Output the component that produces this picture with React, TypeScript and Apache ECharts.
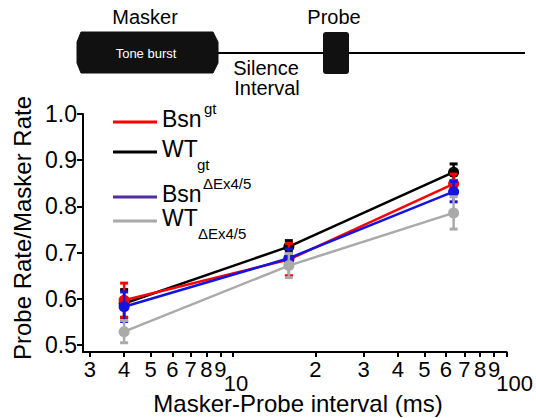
import React, { useEffect, useRef } from "react";
import * as echarts from "echarts";

const intervals = [4, 16, 64];
const wtGt = [0.59, 0.713, 0.874];
const wtGtErr = [0.03, 0.013, 0.018];
const bsnGt = [0.597, 0.685, 0.849];
const bsnGtErr = [0.037, 0.035, 0.021];
const bsnEx = [0.583, 0.688, 0.832];
const bsnExErr = [0.032, 0.02, 0.022];
const wtEx = [0.529, 0.672, 0.786];
const wtExErr = [0.024, 0.026, 0.035];

const xTicks = [3, 4, 5, 6, 7, 8, 9, 10, 20, 30, 40, 50, 60, 70, 80, 90, 100];
const xMinorLabels = [3, 4, 5, 6, 7, 8, 9, 20, 30, 40, 50, 60, 70, 80, 90];
const xDecadeLabels = [10, 100];
const yTicks = [0.5, 0.6, 0.7, 0.8, 0.9, 1.0];

const FONT = "'Liberation Sans', Arial, Helvetica, sans-serif";

export default function App() {
  const ref = useRef<HTMLDivElement>(null);
  useEffect(() => {
    if (!ref.current) return;
    const chart = echarts.init(ref.current, null, { renderer: "svg" });

    const groups = [
      { name: "WT_gt", vals: wtGt, err: wtGtErr, color: "#000000" },
      { name: "Bsn_gt", vals: bsnGt, err: bsnGtErr, color: "#ff0000" },
      { name: "Bsn_Ex", vals: bsnEx, err: bsnExErr, color: "#1414e0" },
      { name: "WT_Ex", vals: wtEx, err: wtExErr, color: "#aaaaaa" },
    ];

    const series: any[] = [];
    groups.forEach((g, gi) => {
      series.push({
        type: "custom",
        name: g.name + "_err",
        z: 2 + gi * 2,
        xAxisIndex: 0,
        encode: { x: 0, y: [1, 2] },
        data: intervals.map((x, i) => [x, g.vals[i] - g.err[i], g.vals[i] + g.err[i]]),
        renderItem: (params: any, api: any) => {
          const x = api.value(0);
          const lo = api.coord([x, api.value(1)]);
          const hi = api.coord([x, api.value(2)]);
          const hw = 4;
          const st = { stroke: g.color, lineWidth: 2.5 };
          const cap = { stroke: g.color, lineWidth: 3 };
          return {
            type: "group",
            children: [
              { type: "line", shape: { x1: lo[0], y1: lo[1], x2: hi[0], y2: hi[1] }, style: st },
              { type: "line", shape: { x1: lo[0] - hw, y1: lo[1], x2: lo[0] + hw, y2: lo[1] }, style: cap },
              { type: "line", shape: { x1: hi[0] - hw, y1: hi[1], x2: hi[0] + hw, y2: hi[1] }, style: cap },
            ],
          };
        },
      });
      series.push({
        type: "line",
        name: g.name,
        z: 3 + gi * 2,
        xAxisIndex: 0,
        data: intervals.map((x, i) => [x, g.vals[i]]),
        symbol: "circle",
        symbolSize: 11,
        showSymbol: true,
        lineStyle: { color: g.color, width: 2.5 },
        itemStyle: { color: g.color },
      });
    });

    const legendItems = [
      { y: 122, color: "#ff0000", main: "Bsn", sup: "gt", sub: null, supX: 204 },
      { y: 152, color: "#000000", main: "WT", sup: null, sub: "gt", supX: 197 },
      { y: 197, color: "#4f2f9f", main: "Bsn", sup: "\u0394Ex4/5", sub: null, supX: 203 },
      { y: 221, color: "#aaaaaa", main: "WT", sup: null, sub: "\u0394Ex4/5", supX: 198 },
    ];
    const legendGraphics: any[] = [];
    legendItems.forEach((l) => {
      legendGraphics.push({
        type: "line",
        shape: { x1: 113, y1: l.y, x2: 157, y2: l.y },
        style: { stroke: l.color, lineWidth: 3 },
      });
      legendGraphics.push({
        type: "text",
        x: 162,
        y: l.y - 3,
        style: { text: l.main, font: `23px ${FONT}`, fill: "#000", align: "left", verticalAlign: "middle" },
      });
      if (l.sup) {
        legendGraphics.push({
          type: "text",
          x: l.supX,
          y: l.y - 14,
          style: { text: l.sup, font: `15px ${FONT}`, fill: "#000", align: "left", verticalAlign: "middle" },
        });
      }
      if (l.sub) {
        legendGraphics.push({
          type: "text",
          x: l.supX,
          y: l.y + 12,
          style: { text: l.sub, font: `15px ${FONT}`, fill: "#000", align: "left", verticalAlign: "middle" },
        });
      }
    });

    const schematic: any[] = [
      {
        type: "polygon",
        shape: {
          points: [
            [81, 32], [213, 32], [218, 42], [218, 63], [213, 73], [81, 73], [77, 63], [77, 42],
          ],
        },
        style: { fill: "#111", stroke: "#111", lineWidth: 1, lineJoin: "round" },
      },
      {
        type: "text", x: 146, y: 53,
        style: { text: "Tone burst", font: `13px ${FONT}`, fill: "#fff", align: "center", verticalAlign: "middle" },
      },
      { type: "line", shape: { x1: 218, y1: 53, x2: 525, y2: 53 }, style: { stroke: "#000", lineWidth: 2 } },
      {
        type: "rect",
        shape: { x: 323, y: 32, width: 26, height: 42, r: 3 },
        style: { fill: "#111" },
      },
      {
        type: "text", x: 145, y: 17,
        style: { text: "Masker", font: `20px ${FONT}`, fill: "#000", align: "center", verticalAlign: "middle" },
      },
      {
        type: "text", x: 334, y: 17,
        style: { text: "Probe", font: `20px ${FONT}`, fill: "#000", align: "center", verticalAlign: "middle" },
      },
      {
        type: "text", x: 266, y: 68,
        style: { text: "Silence", font: `20px ${FONT}`, fill: "#000", align: "center", verticalAlign: "middle" },
      },
      {
        type: "text", x: 267, y: 88,
        style: { text: "Interval", font: `20px ${FONT}`, fill: "#000", align: "center", verticalAlign: "middle" },
      },
      {
        type: "text", x: 22, y: 228, rotation: Math.PI / 2,
        style: { text: "Probe Rate/Masker Rate", font: `24px ${FONT}`, fill: "#000", align: "center", verticalAlign: "middle" },
      },
      {
        type: "text", x: 298, y: 403,
        style: { text: "Masker-Probe interval (ms)", font: `24px ${FONT}`, fill: "#000", align: "center", verticalAlign: "middle" },
      },
    ];

    const xMinorLabel = (v: number) => {
      const r = Math.round(v);
      return r > 10 ? String(r / 10) : String(r);
    };
    const xDecadeLabel = (v: number) => {
      const r = Math.round(v);
      return r === 100 ? "{hund|100}" : "{ten|10}";
    };

    chart.setOption({
      animation: false,
      backgroundColor: "#fff",
      grid: { left: 83, right: 29, top: 114, bottom: 66, containLabel: false },
      xAxis: [
        {
          type: "log",
          logBase: 10,
          min: 2.83,
          max: 100,
          axisLine: { show: true, lineStyle: { color: "#000", width: 2 } },
          axisTick: { show: true, customValues: xTicks, length: 5, lineStyle: { color: "#000", width: 2 } },
          axisLabel: {
            show: true,
            customValues: xMinorLabels,
            formatter: xMinorLabel,
            color: "#000",
            fontSize: 22,
            fontFamily: FONT,
            margin: 6,
          },
          splitLine: { show: false },
          minorTick: { show: false },
        },
        {
          type: "log",
          logBase: 10,
          min: 2.83,
          max: 100,
          position: "bottom",
          axisLine: { show: false },
          axisTick: { show: false },
          axisLabel: {
            show: true,
            customValues: xDecadeLabels,
            formatter: xDecadeLabel,
            showMinLabel: true,
            showMaxLabel: true,
            color: "#000",
            fontSize: 22,
            fontFamily: FONT,
            margin: 20,
            rich: {
              ten: { fontSize: 22, fontFamily: FONT, color: "#000", padding: [0, 0, 0, 6] },
              hund: { fontSize: 22, fontFamily: FONT, color: "#000", padding: [0, 0, 0, 16] },
            },
          },
          splitLine: { show: false },
          minorTick: { show: false },
        },
      ],
      yAxis: {
        type: "value",
        min: 0.485,
        max: 1.0,
        axisLine: { show: true, lineStyle: { color: "#000", width: 2 } },
        axisTick: { show: true, customValues: yTicks, length: 6, lineStyle: { color: "#000", width: 2 } },
        axisLabel: {
          show: true,
          customValues: yTicks,
          formatter: (v: number) => v.toFixed(1),
          color: "#000",
          fontSize: 23,
          fontFamily: FONT,
          margin: 6,
        },
        splitLine: { show: false },
      },
      series,
      graphic: [...schematic, ...legendGraphics],
    });

    return () => chart.dispose();
  }, []);

  return (
    <div
      ref={ref}
      style={{ position: "fixed", left: 0, top: 0, width: 536, height: 418, background: "#fff" }}
    />
  );
}
